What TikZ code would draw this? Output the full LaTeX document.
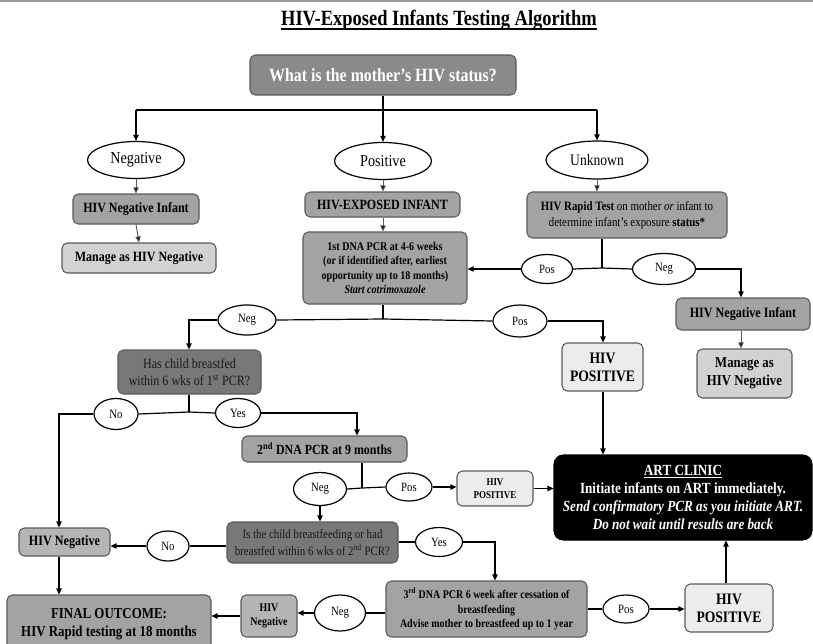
\documentclass[tikz,border=0pt]{standalone}
\usepackage{fontspec}
\setmainfont{Liberation Serif}[FakeStretch=0.85]
\usetikzlibrary{arrows.meta,shapes.geometric}
\newcommand\fsz[2]{\fontsize{#1}{#2}\selectfont}
\definecolor{gMother}{HTML}{8A8A8A}
\definecolor{gMid}{HTML}{A3A3A3}
\definecolor{gLight}{HTML}{D2D2D2}
\definecolor{gDark}{HTML}{787878}
\definecolor{gPale}{HTML}{ECECEC}
\definecolor{gNeg}{HTML}{B5B5B5}
\definecolor{gEdge}{HTML}{5A5A5A}
\begin{document}
\begin{tikzpicture}[x=0.75pt,y=-0.75pt,
  sz/.style 2 args={minimum width=#1*0.75pt, minimum height=#2*0.75pt},
  box/.style={draw=gEdge, rounded corners=4pt, line width=0.8pt, align=center, inner sep=1pt},
  ell/.style={ellipse, draw, line width=0.9pt, inner sep=0pt, font=\fsz{9.5}{11}},
  bigell/.style={ellipse, draw, line width=0.9pt, inner sep=0pt, font=\fsz{12.5}{14}},
  ln/.style={line width=0.9pt},
  arr/.style={ln, -{Triangle[length=4.5pt,width=4pt]}},
  arrg/.style={line width=0.7pt, draw=gEdge, -{Triangle[length=4.5pt,width=4pt,fill=black]}}
]
\useasboundingbox (0,0) rectangle (813,643);
\draw[gray!80, line width=1pt] (0,1) -- (813,1);

% title
\node[inner sep=0pt, font=\fsz{16.3}{19}\bfseries] (title) at (439,20) {HIV-Exposed Infants Testing Algorithm};
\draw[line width=1.3pt] ([yshift=-3pt]title.base west) -- ([yshift=-3pt]title.base east);

% first question and the three answers
\node[box, fill=gMother, sz={266}{40}, text=white, font=\fsz{14}{16}\bfseries] (mother) at (383,75) {What is the mother’s HIV status?};
\node[bigell, sz={97}{37}] (eNeg) at (136,160) {Negative};
\node[bigell, sz={97}{37}] (ePos) at (383,161) {Positive};
\node[bigell, sz={102}{38}, font=\fsz{12}{14}] (eUnk) at (597,160) {Unknown};

% negative branch
\node[box, fill=gMid, sz={126}{30}, font=\fsz{10.6}{12}\bfseries] (negInf) at (136,209) {HIV Negative Infant};
\node[box, fill=gLight, sz={154}{30}, font=\fsz{10.6}{12}\bfseries] (manageL) at (139,258) {Manage as HIV Negative};

% positive branch
\node[box, fill=gMid, sz={155}{25}, font=\fsz{10.6}{12}\bfseries] (exposed) at (382.5,204.5) {HIV-EXPOSED INFANT};
\node[box, fill=gMid, sz={164}{72}, font=\fsz{8.9}{10.9}\bfseries] (pcr1) at (385,268)
  {1st DNA PCR at 4-6 weeks\\(or if identified after, earliest\\opportunity up to 18 months)\\\textit{Start cotrimoxazole}};

% unknown branch
\node[box, fill=gMid, sz={200}{46}, font=\fsz{9.6}{12}] (rapid) at (627,215)
  {\textbf{HIV Rapid Test} on mother \textit{or} infant to\\determine infant’s exposure \textbf{status*}};
\node[ell, sz={51}{29}] (ePos1) at (547,269) {Pos};
\node[ell, sz={63}{31}] (eNeg1) at (664,269) {Neg};
\node[box, fill=gMid, sz={134}{32}, font=\fsz{10.7}{12}\bfseries] (negInfR) at (743,314) {HIV Negative Infant};
\node[box, fill=gLight, sz={95}{49}, font=\fsz{11.3}{13.5}\bfseries] (manageR) at (744.5,373.5) {Manage as\\HIV Negative};

% first PCR result
\node[ell, sz={58}{30}] (eNeg2) at (247,320) {Neg};
\node[ell, sz={54}{32}] (ePos2) at (520,321) {Pos};
\node[box, fill=gPale, sz={81}{48}, font=\fsz{12}{13.5}\bfseries] (posBig) at (602.5,367) {HIV\\POSITIVE};
\node[box, fill=gDark, sz={143}{44}, text=black!90, font=\fsz{10.6}{13}] (breast1) at (189.5,372)
  {Has child breastfed\\within 6 wks of 1\textsuperscript{st} PCR?};
\node[ell, sz={44}{31}] (eNo1) at (116,414) {No};
\node[ell, sz={45}{29}] (eYes1) at (238,413) {Yes};

% second PCR
\node[box, fill=gMid, sz={165}{26}, font=\fsz{10.5}{12}\bfseries] (pcr2) at (324.5,449) {2\textsuperscript{nd} DNA PCR at 9 months};
\node[ell, sz={53}{33}] (eNeg3) at (320,489) {Neg};
\node[ell, sz={46}{28}] (ePos3) at (409,487) {Pos};
\node[box, fill=gPale, sz={76}{35}, font=\fsz{7.9}{9.5}\bfseries] (posSmall) at (495,488.5) {HIV\\POSITIVE};
\node[box, draw=black, fill=black, text=white, rounded corners=7pt, sz={258}{85}, font=\fsz{11.6}{13.6}\bfseries] (art) at (683,497.5)
  {\underline{ART CLINIC}\\Initiate infants on ART immediately.\\\textit{Send confirmatory PCR as you initiate ART.}\\\textit{Do not wait until results are back}};
\node[box, fill=gDark, sz={171}{41}, text=black!90, font=\fsz{9.6}{13}] (breast2) at (312.5,542.5)
  {Is the child breastfeeding or had\\breastfed within 6 wks of 2\textsuperscript{nd} PCR?};
\node[ell, sz={42}{30}] (eNo2) at (168,546) {No};
\node[ell, sz={47}{29}] (eYes2) at (439,542) {Yes};
\node[box, fill=gNeg, sz={91}{28}, font=\fsz{10.7}{12}\bfseries] (negL) at (64.5,542) {HIV Negative};

% third PCR and final outcome
\node[box, fill=gMid, sz={201}{56}, font=\fsz{8.8}{11}\bfseries] (pcr3) at (486.5,609)
  {3\textsuperscript{rd} DNA PCR 6 week after cessation of\\breastfeeding\\Advise mother to breastfeed up to 1 year};
\node[ell, sz={51}{36}] (eNeg4) at (340,613) {Neg};
\node[ell, sz={46}{28}] (ePos4) at (626,609) {Pos};
\node[box, fill=gPale, sz={88}{48}, font=\fsz{12}{13.5}\bfseries] (posBig2) at (729,608) {HIV\\POSITIVE};
\node[box, fill=gNeg, sz={56}{42}, font=\fsz{8.8}{11}\bfseries] (negSmall) at (269,616) {HIV\\Negative};
\node[box, fill=gMid, sz={204}{55}, font=\fsz{11.4}{14}\bfseries, text depth=0pt] (final) at (109,622.5)
  {FINAL OUTCOME:\\HIV Rapid testing at 18 months};

% junctions
\coordinate (jTop) at (383,110);
\coordinate (jTopL) at (136,110);
\coordinate (jTopR) at (597,110);
\coordinate (jRap) at (602,268);
\coordinate (jNegR) at (741,269);
\coordinate (jP1) at (383,319);
\coordinate (jNegL) at (189,320);
\coordinate (jPosC) at (603,320);
\coordinate (jB1) at (189,412);
\coordinate (jNoL) at (59,414);
\coordinate (jYes1) at (357,410);
\coordinate (jP2) at (362,488);
\coordinate (jYes2) at (495,542);
\coordinate (jArtB) at (726,560);

% connectors
\draw[ln] (mother.south) -- (jTop);
\draw[ln] (jTopL) -- (jTopR);
\draw[arr] (jTopL) -- (eNeg.north);
\draw[arr] (jTop) -- (ePos.north);
\draw[arr] (jTopR) -- (eUnk.north);
\draw[arrg] (eNeg.south) -- (negInf.north);
\draw[arrg] (negInf.south) -- (manageL.north);
\draw[arrg] (ePos.south) -- (exposed.north -| ePos.south);
\draw[arrg] (exposed.south -| ePos.south) -- (pcr1.north -| ePos.south);
\draw[arrg] (eUnk.south) -- (rapid.north -| eUnk.south);

\draw[ln] (rapid.south -| jRap) -- (jRap);
\draw[ln] (jRap) -- (ePos1.east);
\draw[arr] (ePos1.west) -- (pcr1.east |- ePos1.west);
\draw[ln] (jRap) -- (eNeg1.west);
\draw[arr] (eNeg1.east) -| (negInfR.north -| jNegR);
\draw[arrg] (negInfR.south -| jNegR) -- (manageR.north -| jNegR);

\draw[ln] (pcr1.south -| jP1) -- (jP1);
\draw[ln] (jP1) -- (eNeg2.east);
\draw[arr] (eNeg2.west) -| (breast1.north -| jNegL);
\draw[ln] (jP1) -- (ePos2.west);
\draw[arr] (ePos2.east) -| (posBig.north -| jPosC);
\draw[arr] (posBig.south -| jPosC) -- (art.north -| jPosC);

\draw[ln] (breast1.south -| jB1) -- (jB1);
\draw[ln] (jB1) -- (eNo1.east);
\draw[arr] (eNo1.west) -| (negL.north -| jNoL);
\draw[ln] (jB1) -- (eYes1.west);
\draw[arr] (eYes1.east) -| (pcr2.north -| jYes1);

\draw[ln] (pcr2.south -| jP2) -- (jP2);
\draw[ln] (jP2) -- (eNeg3.east);
\draw[ln] (jP2) -- (ePos3.west);
\draw[arr] (ePos3.east) -- (posSmall.west |- ePos3.east);
\draw[arr] (posSmall.east) -- (art.west |- posSmall.east);
\draw[arr] (eNeg3.south) -- (breast2.north -| eNeg3.south);

\draw[ln] (breast2.west |- eNo2.east) -- (eNo2.east);
\draw[arr] (eNo2.west) -- (negL.east |- eNo2.west);
\draw[ln] (breast2.east |- eYes2.west) -- (eYes2.west);
\draw[arr] (eYes2.east) -| (pcr3.north -| jYes2);
\draw[arr] (negL.south -| jNoL) -- (final.north -| jNoL);

\draw[ln] (pcr3.west |- eNeg4.east) -- (eNeg4.east);
\draw[arr] (eNeg4.west) -- (negSmall.east |- eNeg4.west);
\draw[arr] (negSmall.west) -- (final.east |- negSmall.west);
\draw[ln] (pcr3.east |- ePos4.west) -- (ePos4.west);
\draw[arr] (ePos4.east) -- (posBig2.west |- ePos4.east);
\draw[arr] (posBig2.north -| jArtB) -- (art.south -| jArtB);
\end{tikzpicture}
\end{document}
